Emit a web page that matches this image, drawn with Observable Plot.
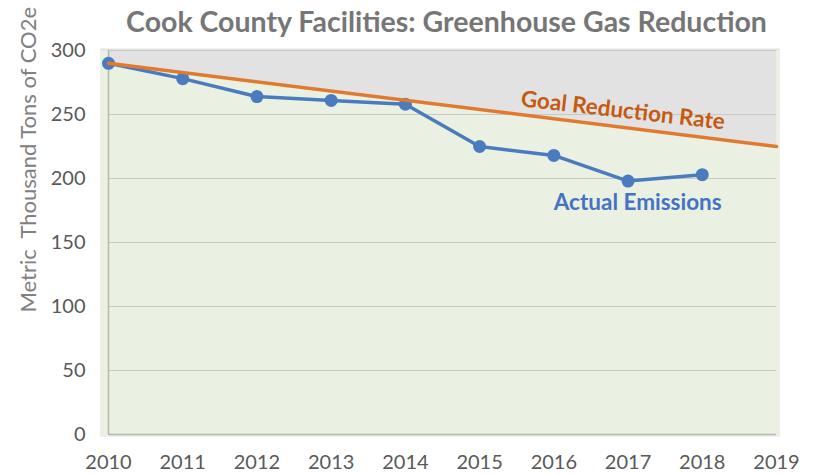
<!DOCTYPE html>
<html>
<head>
<meta charset="utf-8">
<script src="https://cdn.jsdelivr.net/npm/d3@7"></script>
<script src="https://cdn.jsdelivr.net/npm/@observablehq/plot@0.6"></script>
<style>
  html, body { margin: 0; padding: 0; background: white; }
</style>
</head>
<body>
<div id="chart"></div>
<script>
const title = "Cook County Facilities: Greenhouse Gas Reduction";
const yAxisLabel = "Metric  Thousand Tons of CO2e";
const years = [2010, 2011, 2012, 2013, 2014, 2015, 2016, 2017, 2018];
const actualEmissions = [290, 278, 264, 261, 258, 225, 218, 198, 203];
const goalYears = [2010, 2019];
const goalValues = [290, 225];
const xTicks = [2010, 2011, 2012, 2013, 2014, 2015, 2016, 2017, 2018, 2019];
const yTicks = [0, 50, 100, 150, 200, 250, 300];
const goalLabel = "Goal Reduction Rate";
const actualLabel = "Actual Emissions";

const actualData = years.map((year, i) => ({year, value: actualEmissions[i]}));
const goalData = goalYears.map((year, i) => ({year, value: goalValues[i]}));
const yTop = yTicks[yTicks.length - 1];

const chart = Plot.plot({
  width: 813,
  height: 474,
  marginLeft: 108,
  marginRight: 37,
  marginTop: 50,
  marginBottom: 40,
  style: {fontFamily: "Lato, 'Open Sans', sans-serif", fontSize: "20px", color: "#595959", background: "white", overflow: "visible"},
  x: {domain: [2010, 2019], ticks: xTicks, tickFormat: "d", tickSize: 0, tickPadding: 20, label: null},
  y: {domain: [0, yTop], ticks: yTicks, tickSize: 0, tickPadding: 23, label: null},
  marks: [
    Plot.frame({fill: "#e2e2e2", stroke: "none", insetLeft: -8, insetRight: -3, insetTop: -2, insetBottom: -2}),
    Plot.frame({fill: "#eaf1e2", stroke: "none", insetLeft: -8, insetRight: -3, insetTop: 0, insetBottom: -2}),
    Plot.areaY(goalData, {x: "year", y1: "value", y2: () => yTop, fill: "#e2e2e2"}),
    Plot.ruleY(yTicks.filter(v => v > 0), {stroke: "#c6cac2", strokeWidth: 1.2}),
    Plot.ruleY([0], {stroke: "#b3b9ae", strokeWidth: 1.5}),
    Plot.ruleX([2010], {stroke: "#b3b9ae", strokeWidth: 1.5}),
    Plot.line(actualData, {x: "year", y: "value", stroke: "#4a7bbf", strokeWidth: 3.5}),
    Plot.dot(actualData, {x: "year", y: "value", r: 6.5, fill: "#4a7bbf", stroke: "none"}),
    Plot.line(goalData, {x: "year", y: "value", stroke: "#e07a2e", strokeWidth: 3.5}),
    Plot.text([goalLabel], {text: d => d, x: () => 2016.93, y: () => 253, rotate: 6.5, fill: "#c55a11", fontWeight: "bold", fontSize: 22.5}),
    Plot.text([actualLabel], {text: d => d, x: () => 2017.13, y: () => 181, fill: "#4472c4", fontWeight: "bold", fontSize: 22.5}),
    Plot.text([title], {text: d => d, frameAnchor: "top", textAnchor: "middle", lineAnchor: "middle", dx: 4, dy: -28, fontSize: 28.5, fontWeight: "bold", fill: "#767676"}),
    Plot.text([yAxisLabel], {text: d => d, frameAnchor: "bottom-left", textAnchor: "start", lineAnchor: "middle", rotate: -90, dx: -80, dy: -122, fontSize: 22, fill: "#808080"})
  ]
});
document.getElementById("chart").appendChild(chart);
</script>
</body>
</html>
